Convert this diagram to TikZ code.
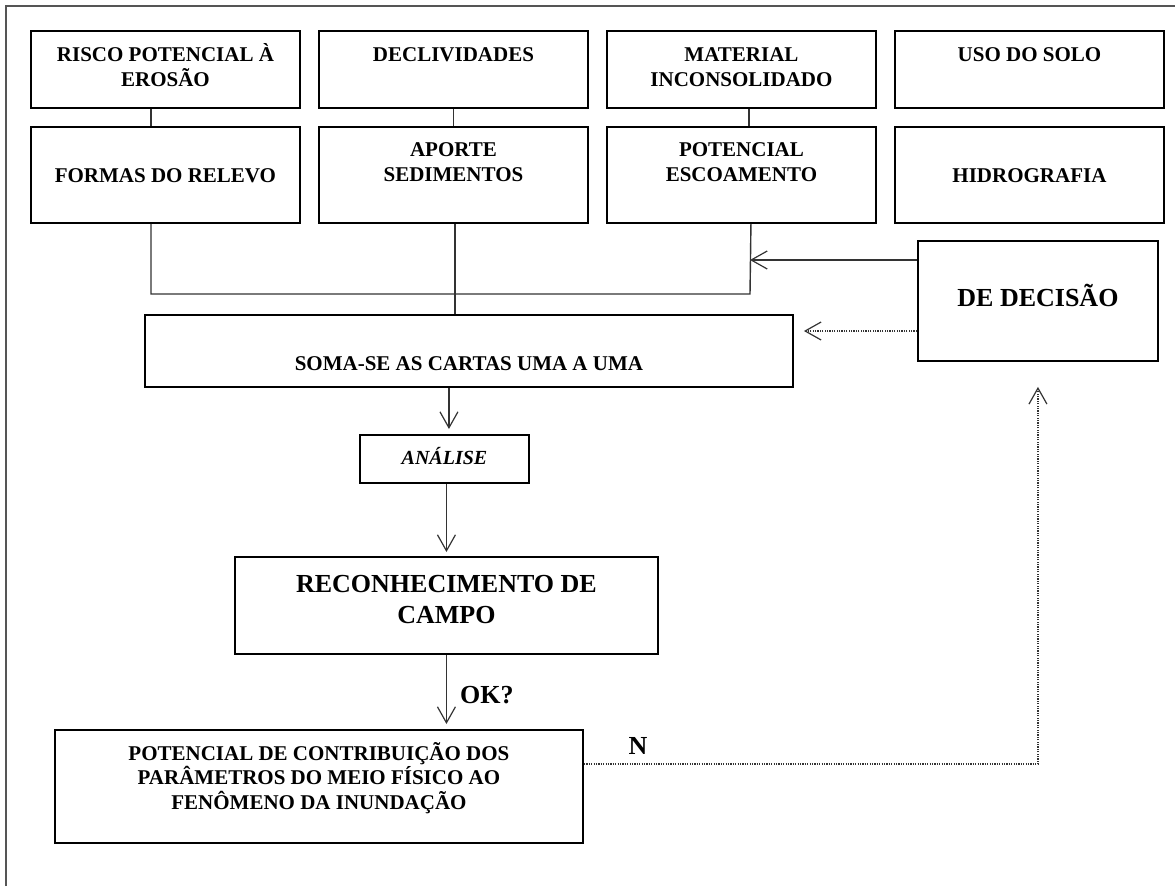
\documentclass[tikz,border=0pt]{standalone}
\usepackage{fontspec}
\setmainfont{Liberation Serif}
\usetikzlibrary{arrows.meta, positioning}

\definecolor{traco}{HTML}{333333}
\definecolor{borda}{HTML}{555555}

\tikzset{
  caixa/.style={draw=black, line width=1.9pt, inner sep=0pt, anchor=north west},
  rotulo/.style={align=center, inner sep=0pt, font=\fontsize{21}{25}\selectfont\bfseries},
  rotuloG/.style={align=center, inner sep=0pt, font=\fontsize{26}{31}\selectfont\bfseries},
  liga/.style={draw=traco, line width=1.4pt},
  pontos/.style={draw=traco, line width=1.2pt, dash pattern=on 1.2pt off 1.2pt},
  seta/.style={-{Straight Barb[length=16pt, width=18pt, line width=1.2pt]}},
}

\begin{document}
\begin{tikzpicture}[x=1pt, y=-1pt]
  \useasboundingbox (0,0) rectangle (1175,886);
  \draw[borda, line width=1.7pt] (6,886) -- (6,6) -- (1175,6);

  % cartas de entrada (duas linhas de quatro); \dy = base da ultima linha
  \foreach \nome/\xx/\yy/\hh/\dy/\texto in {
      risco/30/30/77/56/{RISCO POTENCIAL À\\EROSÃO},
      declividades/318/30/77/31/{DECLIVIDADES},
      material/606/30/77/56/{MATERIAL\\INCONSOLIDADO},
      uso/894/30/77/31/{USO DO SOLO},
      formas/30/126/96/56/{FORMAS DO RELEVO},
      aporte/318/126/96/55/{APORTE\\SEDIMENTOS},
      potencial/606/126/96/55/{POTENCIAL\\ESCOAMENTO},
      hidrografia/894/126/96/56/{HIDROGRAFIA}} {
    \node[caixa, minimum width=269pt, minimum height=\hh pt] (\nome) at (\xx,\yy) {};
    \node[rotulo, anchor=base] (\nome-t) at ([yshift=-\dy pt]\nome.north) {\texto};
  }

  % etapas do fluxo
  \node[caixa, minimum width=648pt, minimum height=72pt] (soma) at (144,314) {};
  \node[rotulo, anchor=base] (soma-t) at ([yshift=-56pt]soma.north) {SOMA-SE AS CARTAS UMA A UMA};

  \node[caixa, minimum width=169pt, minimum height=48pt] (analise) at (359,434) {};
  \node[rotulo, anchor=base, font=\fontsize{20}{24}\selectfont\bfseries\itshape] (analise-t)
    at ([yshift=-30.5pt]analise.north) {ANÁLISE};

  \node[caixa, minimum width=423pt, minimum height=97pt] (reconhecimento) at (234,556) {};
  \node[rotuloG, anchor=base] (reconhecimento-t) at ([yshift=-67.5pt]reconhecimento.north)
    {RECONHECIMENTO DE\\CAMPO};

  \node[caixa, minimum width=528pt, minimum height=113pt] (contribuicao) at (54,729) {};
  \node[rotulo, anchor=base, font=\fontsize{21}{24.5}\selectfont\bfseries] (contribuicao-t)
    at ([yshift=-80pt]contribuicao.north)
    {POTENCIAL DE CONTRIBUIÇÃO DOS\\PARÂMETROS DO MEIO FÍSICO AO\\FENÔMENO DA INUNDAÇÃO};

  \node[caixa, minimum width=240pt, minimum height=120pt] (decisao) at (917,240) {};
  \node[rotuloG, anchor=base] (decisao-t) at ([yshift=-66.5pt]decisao.north) {DE DECISÃO};

  % ligacoes entre as cartas
  \draw[liga] ([xshift=-14.5pt]risco.south) -- ([xshift=-14.5pt]formas.north);
  \draw[liga] (declividades.south) -- (aporte.north);
  \draw[liga] ([xshift=7.5pt]material.south) -- ([xshift=7.5pt]potencial.north);

  \coordinate (juncao) at (750,294);
  \draw[liga] ([xshift=-14.5pt]formas.south) |- (juncao) -- ([xshift=9.5pt]potencial.south);
  \draw[liga] ([xshift=1.5pt]aporte.south) -- ([xshift=1.5pt]aporte.south |- soma.north);

  % retorno da decisao
  \coordinate (decA) at ([yshift=-20pt]decisao.north west);
  \coordinate (decB) at ([yshift=-91pt]decisao.north west);
  \coordinate (somaret) at ([xshift=10pt]soma.east);
  \draw[liga, seta] (decA) -- (decA -| juncao);
  \draw[pontos, seta] (decB) -- (decB -| somaret);

  % sequencia vertical
  \draw[liga, seta, shorten >=5pt] ([xshift=-20pt]soma.south) -- ([xshift=4.5pt]analise.north);
  \draw[liga, seta, shorten >=4pt] ([xshift=2pt]analise.south) -- (reconhecimento.north);
  \draw[liga, seta, shorten >=5pt] (reconhecimento.south) -- (reconhecimento.south |- contribuicao.north);
  \node[rotuloG, anchor=base west] (ok) at ([xshift=13.5pt, yshift=-48.5pt]reconhecimento.south) {OK?};

  \draw[pontos, seta] ([yshift=22.5pt]contribuicao.east) -| ([yshift=-25pt]decisao.south);
  \node[rotuloG, anchor=base] (nao) at ([xshift=54pt, yshift=32pt]contribuicao.east) {N};
\end{tikzpicture}
\end{document}
